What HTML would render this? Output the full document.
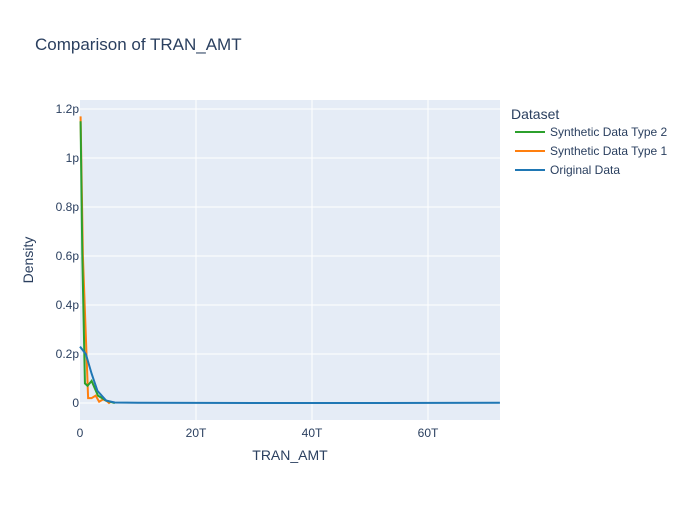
<!DOCTYPE html>
<html><head><meta charset="utf-8"><style>
body{margin:0;background:#fff;font-family:"Liberation Sans",sans-serif;}
svg text{font-family:"Liberation Sans",sans-serif;fill:#2a3f5f;}
</style></head><body>
<svg id="chart" width="700" height="500">
<rect width="700" height="500" fill="#fff"/>
<text x="35" y="50" font-size="17">Comparison of TRAN_AMT</text>
<rect x="80" y="100" width="420" height="320" fill="#e5ecf6"/>
<g id="grid"></g><g id="series"></g><g id="axes"></g>
<text x="290" y="460" font-size="14" text-anchor="middle">TRAN_AMT</text>
<text x="33" y="260" font-size="14" text-anchor="middle" transform="rotate(-90 33 260)">Density</text>
<g>
<text x="511" y="119" font-size="14">Dataset</text>
<g><line x1="515" x2="545" y1="132" y2="132" stroke="#2ca02c" stroke-width="2"/><text x="550" y="136" font-size="12">Synthetic Data Type 2</text></g>
<g><line x1="515" x2="545" y1="151" y2="151" stroke="#ff7f0e" stroke-width="2"/><text x="550" y="155" font-size="12">Synthetic Data Type 1</text></g>
<g><line x1="515" x2="545" y1="170" y2="170" stroke="#1f77b4" stroke-width="2"/><text x="550" y="174" font-size="12">Original Data</text></g>
</g>
</svg>
<script>
const xTicks=[0,20,40,60];
const xTickLabels=["0","20T","40T","60T"];
const yTicks=[0,0.2,0.4,0.6,0.8,1,1.2];
const yTickLabels=["0","0.2p","0.4p","0.6p","0.8p","1p","1.2p"];
const origX=[0,1,2,3,4.5,6,10,30,50,72.4];
const origY=[0.23,0.2,0.12,0.05,0.01,0.002,0.001,0,0,0.001];
const syn1X=[0.1,0.5,1.4,2.0,2.7,3.3,4.0,4.6,5.0,5.3];
const syn1Y=[1.17,0.6,0.02,0.02,0.03,0.005,0.015,0.008,0,0.005];
const syn2X=[0.1,0.4,0.85,1.3,2.0,3.1,4.5,6];
const syn2Y=[1.15,0.6,0.08,0.07,0.09,0.03,0.01,0];
const X=v=>80+v*5.8, Y=v=>403-v*245;
const ns="http://www.w3.org/2000/svg";
const g=document.getElementById('grid'),s=document.getElementById('series'),a=document.getElementById('axes');
function mk(tag,at,p){const e=document.createElementNS(ns,tag);for(const k in at)e.setAttribute(k,at[k]);p.appendChild(e);return e;}
xTicks.forEach((t,i)=>{if(t>0){const l=mk('line',{x1:X(t),x2:X(t),y1:100,y2:420,stroke:'#fff','stroke-width':1},g);

}
const tx=mk('text',{x:X(t),y:437,'font-size':12,'text-anchor':'middle'},a);tx.textContent=xTickLabels[i];

});
yTicks.forEach((t,i)=>{const l=mk('line',{x1:80,x2:500,y1:Y(t),y2:Y(t),stroke:'#fff','stroke-width':1},g);


const tx=mk('text',{x:79,y:Y(t)+4,'font-size':12,'text-anchor':'end'},a);tx.textContent=yTickLabels[i];

});
function line(xs,ys,c,n){const p=mk('polyline',{points:xs.map((x,i)=>X(x)+','+Y(ys[i])).join(' '),fill:'none',stroke:c,'stroke-width':2},s);

}
line(syn1X,syn1Y,'#ff7f0e','synthetic-1-line');
line(syn2X,syn2Y,'#2ca02c','synthetic-2-line');
line(origX,origY,'#1f77b4','original-line');
</script>
</body></html>
